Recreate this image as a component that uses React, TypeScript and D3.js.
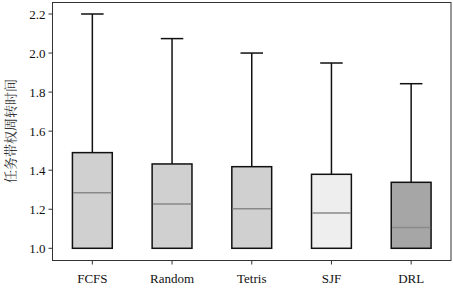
import React from "react";
import * as d3 from "d3";

const categories = ["FCFS", "Random", "Tetris", "SJF", "DRL"];
const q1 = [1.0, 1.0, 1.0, 1.0, 1.0];
const medians = [1.285, 1.227, 1.203, 1.181, 1.106];
const q3 = [1.49, 1.432, 1.418, 1.379, 1.338];
const whiskerLow = [1.0, 1.0, 1.0, 1.0, 1.0];
const whiskerHigh = [2.2, 2.074, 2.0, 1.949, 1.843];
const fills = ["#d0d0d0", "#d0d0d0", "#d0d0d0", "#eeeeee", "#a6a6a6"];
const yTicks = [1.0, 1.2, 1.4, 1.6, 1.8, 2.0, 2.2];
const yLabel = "任务带权周转时间";

const W = 453;
const H = 288;
const frame = { left: 52.5, top: 2.5, right: 451, bottom: 260.5 };

export default function App() {
  const x = d3.scaleBand<string>().domain(categories).range([frame.left, frame.right]).padding(0);
  const y = d3.scaleLinear().domain([1.0, 2.2]).range([248.3, 14]);
  const bw = x.bandwidth() * 0.5;
  const cw = x.bandwidth() * 0.27;
  const font = "'Liberation Serif', 'Times New Roman', serif";

  return (
    <svg width={W} height={H} style={{ position: "absolute", left: 0, top: 0 }}>
      <rect x={0} y={0} width={W} height={H} fill="#fff" />
      <rect
        x={frame.left}
        y={frame.top}
        width={frame.right - frame.left}
        height={frame.bottom - frame.top}
        fill="none"
        stroke="#333"
        strokeWidth={1}
      />
      {yTicks.map((t) => (
        <g key={t}>
          <line x1={frame.left - 4} x2={frame.left} y1={y(t)} y2={y(t)} stroke="#333" strokeWidth={1} />
          <text x={frame.left - 7} y={y(t)} dy="0.35em" textAnchor="end" fontFamily={font} fontSize={13} fill="#111">
            {t.toFixed(1)}
          </text>
        </g>
      ))}
      {categories.map((c, i) => {
        const cx = (x(c) as number) + x.bandwidth() / 2;
        return (
          <g key={c}>
            <line x1={cx} x2={cx} y1={frame.bottom} y2={frame.bottom + 4} stroke="#333" strokeWidth={1} />
            <text x={cx} y={283} textAnchor="middle" fontFamily={font} fontSize={13} fill="#111">
              {c}
            </text>
            <line x1={cx} x2={cx} y1={y(whiskerHigh[i])} y2={y(q3[i])} stroke="#111" strokeWidth={1.5} />
            <line x1={cx} x2={cx} y1={y(q1[i])} y2={y(whiskerLow[i])} stroke="#111" strokeWidth={1.5} />
            <line x1={cx - cw / 2 - 0.5} x2={cx + cw / 2 + 0.5} y1={y(whiskerHigh[i])} y2={y(whiskerHigh[i])} stroke="#111" strokeWidth={1.5} />
            <rect
              x={cx - bw / 2}
              y={y(q3[i])}
              width={bw}
              height={y(q1[i]) - y(q3[i])}
              fill={fills[i]}
              stroke="#111"
              strokeWidth={1.5}
            />
            <line x1={cx - bw / 2 + 0.75} x2={cx + bw / 2 - 0.75} y1={y(medians[i])} y2={y(medians[i])} stroke="#8a8a8a" strokeWidth={1.5} />
          </g>
        );
      })}
      <text
        transform={`translate(10.5, ${131}) rotate(-90)`}
        textAnchor="middle"
        dy="0.35em"
        fontFamily="'Noto Serif CJK SC', 'Noto Sans CJK SC', serif"
        fontSize={13}
        fill="#333"
      >
        {yLabel}
      </text>
    </svg>
  );
}
